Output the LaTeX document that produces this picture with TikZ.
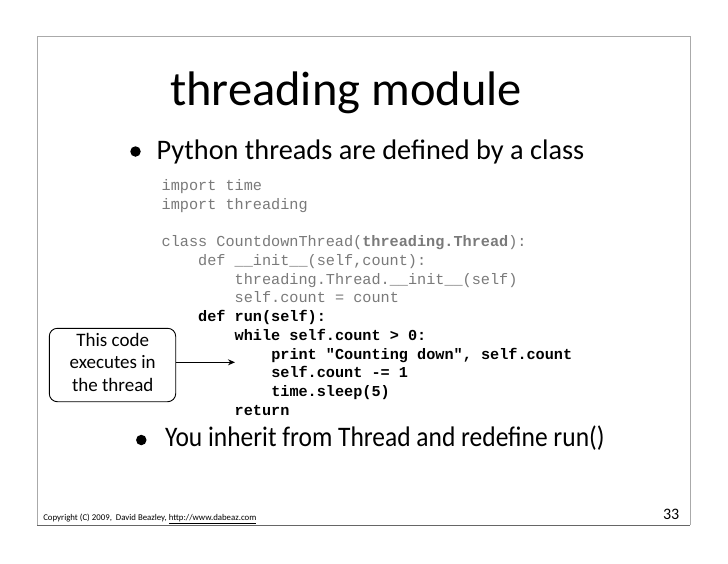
\documentclass[tikz,border=0pt]{standalone}
\usepackage{fontspec}
\setmainfont{Carlito}
\newfontfamily\codefont{Liberation Mono}
\usetikzlibrary{arrows.meta}
\definecolor{codegray}{HTML}{7A7A7A}
\definecolor{framegray}{HTML}{AAAAAA}
\definecolor{framedark}{HTML}{666666}
\tikzset{
  txt/.style={inner sep=0pt, outer sep=0pt, anchor=base west},
  codeline/.style={txt, font=\codefont\fontsize{15.2}{18.7}\selectfont, text=codegray},
  codebold/.style={codeline, text=black, font=\codefont\bfseries\fontsize{15.2}{18.7}\selectfont},
  bulletdot/.style={circle, fill=black, inner sep=0pt, minimum size=10.5pt},
  bullettext/.style={txt, font=\fontsize{28.3}{34}\selectfont},
  callout/.style={draw=black, line width=0.9pt, rounded corners=8pt, minimum width=126.4pt, minimum height=73.4pt, inner sep=0pt},
  arr/.style={line width=1pt, -{Stealth[length=7pt,width=6pt]}}
}
\begin{document}
\begin{tikzpicture}[x=1pt,y=-1pt]
\useasboundingbox (0,0) rectangle (728,563);
\fill[white] (0,0) rectangle (728,563);
% frame
\draw[framegray, line width=1pt] (37.3,525) -- (37.3,36) -- (690,36) -- (690,525);
\draw[framedark, line width=1pt] (37.3,525) -- (690,525);
% title
\node[txt, anchor=base, font=\fontsize{48.5}{58}\selectfont] (title) at (346,105) {threading module};
% bullet 1
\node[bulletdot] (b1) at (135.5,151.5) {};
\node[bullettext] (t1) at (156.7,159.3) {Python threads are defined by a class};
% code
\def\cw{9.13}
\node[codeline] (c1) at (161.7,190.7) {import time};
\node[codeline] (c2) at (161.7,209.4) {import threading};
\node[codeline] (c4) at (161.7,246.8) {class CountdownThread(\textbf{threading.Thread}):};
\node[codeline] (c5) at (161.7+4*\cw,265.5) {def \_\_init\_\_(self,count):};
\node[codeline] (c6) at (161.7+8*\cw,284.2) {threading.Thread.\_\_init\_\_(self)};
\node[codeline] (c7) at (161.7+8*\cw,302.9) {self.count = count};
\node[codebold] (c8) at (161.7+4*\cw,321.6) {def run(self):};
\node[codebold] (c9) at (161.7+8*\cw,340.3) {while self.count > 0:};
\node[codebold] (c10) at (161.7+12*\cw,359) {print "Counting down", self.count};
\node[codebold] (c11) at (161.7+12*\cw,377.7) {self.count -= 1};
\node[codebold] (c12) at (161.7+12*\cw,396.4) {time.sleep(5)};
\node[codebold] (c13) at (161.7+8*\cw,415.1) {return};
% callout
\node[callout] (box) at (112.5,365) {};
\node[txt, anchor=base, align=center, font=\fontsize{19}{22.2}\selectfont] (boxtxt) at (112.7,391) {This code\\executes in\\the thread};
\coordinate (tip) at (235,362.3);
\draw[arr] (box.east |- tip) -- (tip);
% bullet 2
\node[bulletdot] (b2) at (141.3,440) {};
\node[bullettext] (t2) at (165,446.7) {\scalebox{0.9}[1]{You inherit from Thread and redefine run()}};
% footer
\node[txt, font=\fontsize{8.8}{10}\selectfont] (foot) at (43.3,520.7) {Copyright (C) 2009,\ \ David Beazley, \underline{http://www.dabeaz.com}};
\node[txt, anchor=base east, font=\fontsize{16}{18}\selectfont] (page) at (679.3,519) {33};
\end{tikzpicture}
\end{document}
